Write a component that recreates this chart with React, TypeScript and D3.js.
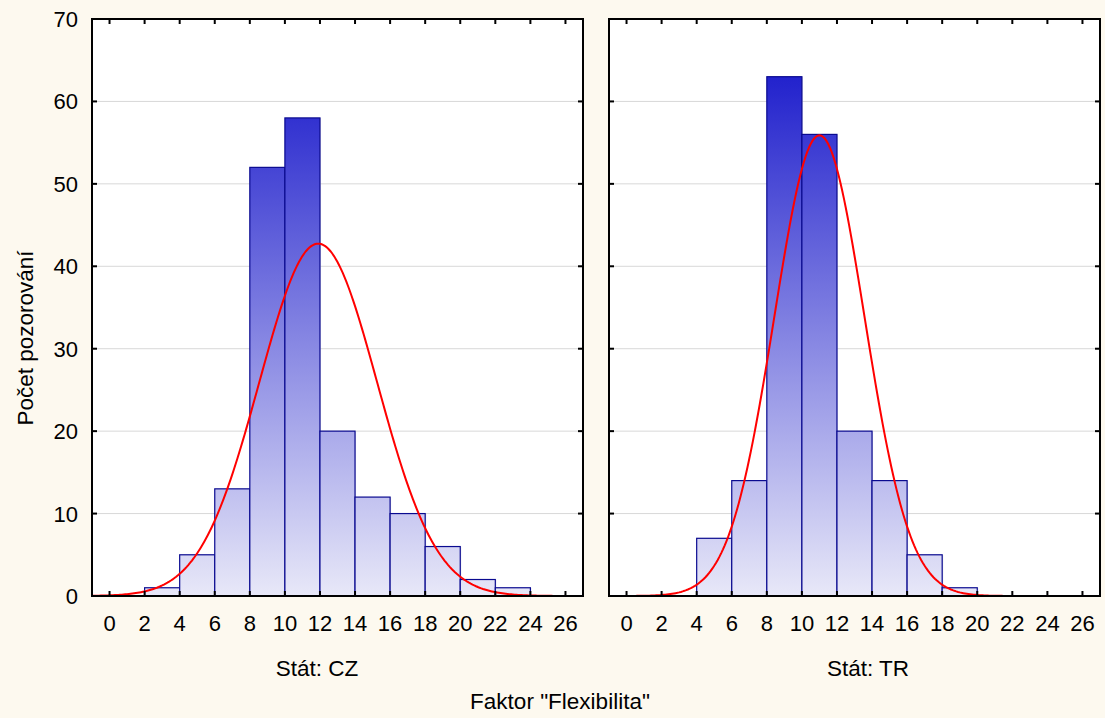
import React from "react";
import * as d3 from "d3";

const binStarts = [0, 2, 4, 6, 8, 10, 12, 14, 16, 18, 20, 22, 24];
const countsCZ = [0, 1, 5, 13, 52, 58, 20, 12, 10, 6, 2, 1, 0];
const countsTR = [0, 0, 7, 14, 63, 56, 20, 14, 5, 1, 0, 0, 0];
const xTicks = [0, 2, 4, 6, 8, 10, 12, 14, 16, 18, 20, 22, 24, 26];
const yTicks = [0, 10, 20, 30, 40, 50, 60, 70];
const panelLabels = ["Stát: CZ", "Stát: TR"];
// fitted normal curve parameters per panel: [mean, sd, n]
const fitCZ = [11.9, 3.36, 180];
const fitTR = [11.0, 2.57, 180];

const W = 1105;
const H = 718;
const BIN = 2;
const FONT = "'Liberation Sans', Arial, sans-serif";

function Panel({ left, right, counts, fit, label, labelX, gid, showY }) {
  const top = 19;
  const bottom = 596;
  const x = d3.scaleLinear().domain([-1, 27]).range([left, right]);
  const y = d3.scaleLinear().domain([0, 70]).range([bottom, top]);
  const [mu, sd, n] = fit;
  const pts = d3.range(-1, 27.001, 0.1).map((v) => [v, (n * BIN * Math.exp(-0.5 * ((v - mu) / sd) ** 2)) / (sd * Math.sqrt(2 * Math.PI))]);
  const line = d3.line().x((d) => x(d[0])).y((d) => y(d[1])).curve(d3.curveLinear);
  return (
    <g>
      <defs>
        <linearGradient id={gid} gradientUnits="userSpaceOnUse" x1="0" y1={y(0)} x2="0" y2={y(70)}>
          <stop offset="0" stopColor="#e8e8f8" />
          <stop offset="1" stopColor="#0c0cc8" />
        </linearGradient>
        <clipPath id={gid + "c"}>
          <rect x={left} y={top} width={right - left} height={bottom - top} />
        </clipPath>
      </defs>
      <rect x={left} y={top} width={right - left} height={bottom - top} fill="#ffffff" />
      {yTicks.slice(1, -1).map((t) => (
        <line key={t} x1={left} x2={right} y1={y(t)} y2={y(t)} stroke="#d8d8d8" strokeWidth={1} />
      ))}
      {binStarts.map((b, i) =>
        counts[i] > 0 ? (
          <g key={b}>
            <rect x={x(b) + 1} y={y(counts[i])} width={x(b + BIN) - x(b)} height={y(0) - y(counts[i])} fill="#c8c8d8" opacity={0.6} />
            <rect x={x(b)} y={y(counts[i])} width={x(b + BIN) - x(b)} height={y(0) - y(counts[i])} fill={`url(#${gid})`} stroke="#0a0a90" strokeWidth={1.2} />
          </g>
        ) : null
      )}
      <path d={line(pts)} fill="none" stroke="#ff0000" strokeWidth={2} clipPath={`url(#${gid}c)`} />
      {xTicks.map((t) => (
        <g key={t}>
          <line x1={x(t)} x2={x(t)} y1={bottom} y2={bottom - 5} stroke="#000" strokeWidth={2} />
          <line x1={x(t)} x2={x(t)} y1={top} y2={top + 5} stroke="#000" strokeWidth={2} />
          <text x={x(t)} y={631} textAnchor="middle" fontSize={22} fontFamily={FONT} fill="#000">{t}</text>
        </g>
      ))}
      {yTicks.map((t) => (
        <g key={t}>
          <line x1={left} x2={left + 5} y1={y(t)} y2={y(t)} stroke="#000" strokeWidth={2} />
          <line x1={right} x2={right - 5} y1={y(t)} y2={y(t)} stroke="#000" strokeWidth={2} />
          {showY ? (
            <text x={left - 14} y={y(t) + 8} textAnchor="end" fontSize={22} fontFamily={FONT} fill="#000">{t}</text>
          ) : null}
        </g>
      ))}
      <rect x={left} y={top} width={right - left} height={bottom - top} fill="none" stroke="#000" strokeWidth={2} />
      <text x={labelX} y={676} textAnchor="middle" fontSize={22.5} fontFamily={FONT} fill="#000">{label}</text>
    </g>
  );
}

export default function App() {
  return (
    <svg width={W} height={H} style={{ display: "block", position: "absolute", left: 0, top: 0 }}>
      <rect x={0} y={0} width={W} height={H} fill="#fdf9ef" />
      <Panel left={92} right={583} counts={countsCZ} fit={fitCZ} label={panelLabels[0]} labelX={317} gid="gcz" showY={true} />
      <Panel left={609} right={1100} counts={countsTR} fit={fitTR} label={panelLabels[1]} labelX={868} gid="gtr" showY={false} />
      <text transform="translate(33,338) rotate(-90)" textAnchor="middle" fontSize={22.5} fontFamily={FONT} fill="#000">Počet pozorování</text>
      <text x={560} y={709} textAnchor="middle" fontSize={22.5} fontFamily={FONT} fill="#000">Faktor "Flexibilita"</text>
    </svg>
  );
}
